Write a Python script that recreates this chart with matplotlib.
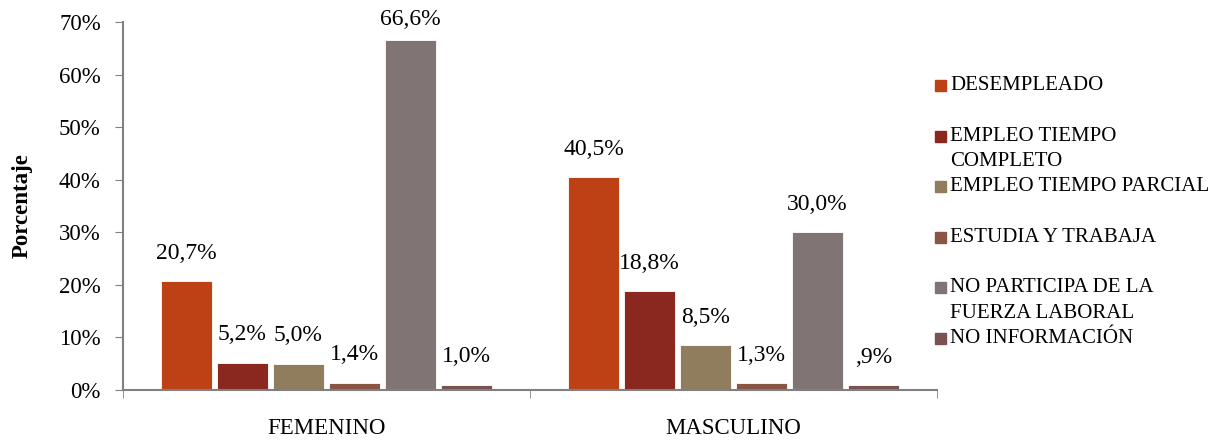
import matplotlib.pyplot as plt
from matplotlib.patches import Rectangle
from matplotlib.ticker import FixedLocator, FuncFormatter

plt.rcParams['font.family'] = ['Liberation Serif', 'DejaVu Serif']

grupos = ['FEMENINO', 'MASCULINO']
series = ['DESEMPLEADO', 'EMPLEO TIEMPO\nCOMPLETO', 'EMPLEO TIEMPO PARCIAL',
          'ESTUDIA Y TRABAJA', 'NO PARTICIPA DE LA\nFUERZA LABORAL', 'NO INFORMACIÓN']
femenino = [20.7, 5.2, 5.0, 1.4, 66.6, 1.0]
masculino = [40.5, 18.8, 8.5, 1.3, 30.0, 0.9]
colores = ['#BD4114', '#8A271F', '#8F7D5D', '#8A5545', '#807474', '#7A5252']


def etiqueta(v):
    s = f'{v:.1f}'.replace('.', ',')
    if s.startswith('0,'):
        s = s[1:]
    return s + '%'


fig = plt.figure(figsize=(12.26, 4.4), dpi=100)
ax = fig.add_axes([123 / 1226, 50 / 440, 814 / 1226, 368 / 440])

n = len(series)
paso = 0.1376
ancho = 0.125
for g, valores in enumerate([femenino, masculino]):
    for i, v in enumerate(valores):
        x = g + (i - (n - 1) / 2) * paso
        ax.bar(x, v / 100, width=ancho, color=colores[i], edgecolor='white', linewidth=0.6)
        # la etiqueta va encima de la barra, sin salirse por arriba
        ytxt = min(v / 100 + 0.053, 0.704)
        ax.text(x, ytxt, etiqueta(v), ha='center', va='center', fontsize=17, clip_on=False)

ax.set_xlim(-0.5, 1.5)
ax.set_ylim(0, 0.7)
ax.set_yticks([i / 10 for i in range(8)])
ax.yaxis.set_major_formatter(FuncFormatter(lambda y, _: f'{y * 100:.0f}%'))
ax.set_xticks([0, 1])
ax.set_xticklabels(grupos)
ax.xaxis.set_minor_locator(FixedLocator([-0.5, 0.5, 1.5]))
ax.tick_params(axis='x', which='major', length=0, pad=28, labelsize=16.5)
ax.tick_params(axis='x', which='minor', length=6, color='#808080', direction='out')
ax.tick_params(axis='y', length=6, color='#808080', labelsize=16.5, pad=10)
for lbl in ax.get_xticklabels():
    lbl.set_va('center')
for s in ['top', 'right']:
    ax.spines[s].set_visible(False)
for s in ['left', 'bottom']:
    ax.spines[s].set_color('#808080')
    ax.spines[s].set_linewidth(1.5)
ax.set_ylabel('Porcentaje', fontsize=16.5, fontweight='bold', labelpad=19)

# leyenda a la derecha
for i, (nombre, c) in enumerate(zip(series, colores)):
    yc = 1 - (85 + 50.6 * i) / 440
    fig.patches.append(Rectangle((935 / 1226, yc - 6 / 440), 11 / 1226, 11 / 440,
                                 transform=fig.transFigure, color=c))
    fig.text(950 / 1226, yc + 9 / 440, nombre, fontsize=15, va='top', ha='left',
             linespacing=1.45)

fig.savefig('out.png', dpi=100)
